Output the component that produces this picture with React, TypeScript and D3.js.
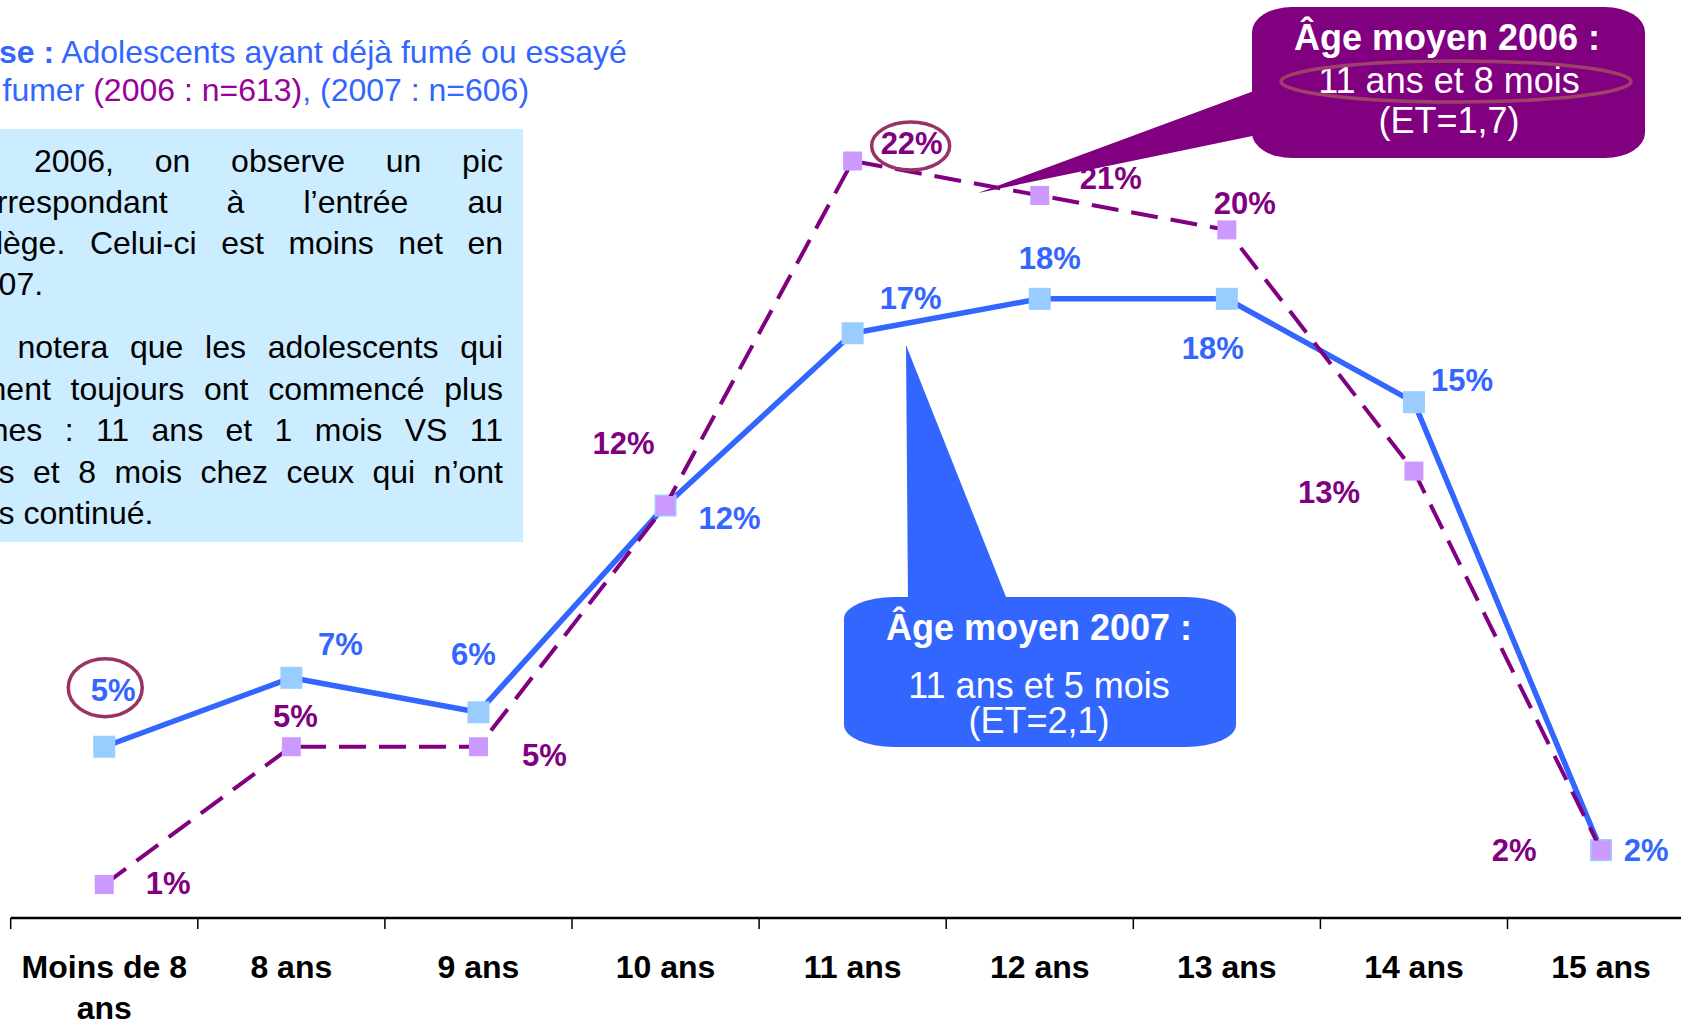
import React, { useMemo } from "react";
import * as d3 from "d3";

// ---------- data ----------
const categories = ["Moins de 8 ans", "8 ans", "9 ans", "10 ans", "11 ans", "12 ans", "13 ans", "14 ans", "15 ans"];
const values2007 = [5, 7, 6, 12, 17, 18, 18, 15, 2];
const values2006 = [1, 5, 5, 12, 22, 21, 20, 13, 2];
const circled2007 = [0];
const circled2006 = [4];

const titleLine1Bold = "Base :";
const titleLine1 = " Adolescents ayant déjà fumé ou essayé";
const titleLine2a = "de fumer ";
const titleLine2b = "(2006 : n=613)";
const titleLine2c = ", (2007 : n=606)";

const noteLines = [
  "En 2006, on observe un pic",
  "correspondant à l’entrée au",
  "collège. Celui-ci est moins net en",
  "2007.",
  "On notera que les adolescents qui",
  "fument toujours ont commencé plus",
  "jeunes : 11 ans et 1 mois VS 11",
  "ans et 8 mois chez ceux qui n’ont",
  "pas continué.",
];
const noteJustified = [true, true, true, false, true, true, true, true, false];

const callout2006 = ["Âge moyen 2006 :", "11 ans et 8 mois", "(ET=1,7)"];
const callout2007 = ["Âge moyen 2007 :", "11 ans et 5 mois", "(ET=2,1)"];

// ---------- layout ----------
const labelOffsets2007: [number, number][] = [
  [9, -57], [49, -34], [-5, -58], [64, 12], [58, -35], [10, -41], [-14, 49], [48, -22], [45, 0],
];
const labelOffsets2006: [number, number][] = [
  [64, -2], [4, -31], [66, 8], [-42, -63], [59, -18], [71, -18], [18, -27], [-85, 21], [-87, 0],
];
const noteLeft = [-46, -37, -45, -37, -47, -47, -52, -37, -37];
const noteBaselines = [172, 213, 254, 295, 358, 400, 441, 483, 524];

const FONT = '"Liberation Sans", Arial, Helvetica, sans-serif';
const BLUE = "#3366FF";
const BLUE_MARK = "#99CCFF";
const PURPLE = "#800080";
const PURPLE_MARK = "#CC99FF";
const RING = "#993366";

let ctxCache: CanvasRenderingContext2D | null = null;
function measure(text: string, font: string): number {
  if (!ctxCache) ctxCache = document.createElement("canvas").getContext("2d");
  if (!ctxCache) return text.length * 16;
  ctxCache.font = font;
  return ctxCache.measureText(text).width;
}

export default function App() {
  const W = 1681;
  const H = 1022;
  const x = d3
    .scaleBand<string>()
    .domain(categories)
    .range([10.7, 10.7 + 187.1 * categories.length])
    .padding(0);
  const bw = x.bandwidth();
  const cx = (i: number) => (x(categories[i]) as number) + bw / 2;
  const y = d3.scaleLinear().domain([0, 22]).range([919, 161]);

  const line = d3
    .line<number>()
    .x((_, i) => cx(i))
    .y((d) => y(d));

  const bodyFont = `32px ${FONT}`;
  const noteLayout = useMemo(() => {
    const R = 503;
    return noteLines.map((ln, li) => {
      const L = noteLeft[li];
      const words = ln.split(" ");
      const ws = words.map((w) => measure(w, bodyFont));
      const sum = ws.reduce((a, b) => a + b, 0);
      const gap =
        noteJustified[li] && words.length > 1
          ? (R - L - sum) / (words.length - 1)
          : measure(" ", bodyFont);
      let pos = L;
      return words.map((w, wi) => {
        const item = { w, x: pos, y: noteBaselines[li] };
        pos += ws[wi] + gap;
        return item;
      });
    });
  }, []);

  const axisFont = `bold 32px ${FONT}`;
  const tickLines = useMemo(
    () =>
      categories.map((c) => {
        const words = c.split(" ");
        const lines: string[] = [];
        let cur = "";
        words.forEach((w) => {
          const t = cur ? cur + " " + w : w;
          if (cur && measure(t, axisFont) > 180) {
            lines.push(cur);
            cur = w;
          } else cur = t;
        });
        if (cur) lines.push(cur);
        return lines;
      }),
    []
  );

  const labelFs = 31;

  return (
    <svg
      width={W}
      height={H}
      viewBox={`0 0 ${W} ${H}`}
      style={{ position: "absolute", left: 0, top: 0, display: "block", background: "#fff" }}
      fontFamily={FONT}
    >
      {/* note box */}
      <rect x={-10} y={129} width={533} height={413} fill="#CCECFF" />
      {noteLayout.map((ws, li) =>
        ws.map((w, wi) => (
          <text key={`n${li}-${wi}`} x={w.x} y={w.y} fontSize={32} fill="#000">
            {w.w}
          </text>
        ))
      )}

      {/* title */}
      <text x={-42} y={63} fontSize={32} fill={BLUE}>
        <tspan fontWeight="bold">{titleLine1Bold}</tspan>
        {titleLine1}
      </text>
      <text x={-42} y={101} fontSize={32} fill={BLUE}>
        {titleLine2a}
        <tspan fill="#990099">{titleLine2b}</tspan>
        {titleLine2c}
      </text>

      {/* axis */}
      <line x1={10.7} x2={W + 20} y1={918} y2={918} stroke="#000" strokeWidth={2.5} />
      {categories.map((c, i) => (
        <line
          key={`t${i}`}
          x1={x(c) as number}
          x2={x(c) as number}
          y1={918}
          y2={929}
          stroke="#000"
          strokeWidth={1.5}
        />
      ))}
      {tickLines.map((lines, i) =>
        lines.map((t, k) => (
          <text
            key={`tl${i}-${k}`}
            x={cx(i)}
            y={978 + k * 41}
            fontSize={32}
            fontWeight="bold"
            textAnchor="middle"
            fill="#000"
          >
            {t}
          </text>
        ))
      )}

      {/* 2007 series */}
      <path d={line(values2007) || ""} fill="none" stroke={BLUE} strokeWidth={5.5} strokeLinejoin="round" />
      {values2007.map((v, i) => (
        <rect key={`bm${i}`} x={cx(i) - 11} y={y(v) - 11} width={22} height={22} fill={BLUE_MARK} />
      ))}

      {/* 2006 series */}
      <path
        d={line(values2006) || ""}
        fill="none"
        stroke={PURPLE}
        strokeWidth={4}
        strokeDasharray="27,13"
      />
      {values2006.map((v, i) => (
        <rect key={`pm${i}`} x={cx(i) - 9.5} y={y(v) - 9.5} width={19} height={19} fill={PURPLE_MARK} />
      ))}

      {/* labels */}
      {values2007.map((v, i) => (
        <text
          key={`bl${i}`}
          x={cx(i) + labelOffsets2007[i][0]}
          y={y(v) + labelOffsets2007[i][1] + labelFs * 0.36}
          fontSize={labelFs}
          fontWeight="bold"
          fill={BLUE}
          textAnchor="middle"
        >
          {`${v}%`}
        </text>
      ))}
      {values2006.map((v, i) => (
        <text
          key={`pl${i}`}
          x={cx(i) + labelOffsets2006[i][0]}
          y={y(v) + labelOffsets2006[i][1] + labelFs * 0.36}
          fontSize={labelFs}
          fontWeight="bold"
          fill={PURPLE}
          textAnchor="middle"
        >
          {`${v}%`}
        </text>
      ))}
      {circled2007.map((i) => (
        <ellipse
          key={`c7${i}`}
          cx={cx(i) + labelOffsets2007[i][0] - 8}
          cy={y(values2007[i]) + labelOffsets2007[i][1] - 2}
          rx={37}
          ry={29}
          fill="none"
          stroke={RING}
          strokeWidth={3.5}
        />
      ))}
      {circled2006.map((i) => (
        <ellipse
          key={`c6${i}`}
          cx={cx(i) + labelOffsets2006[i][0] - 1}
          cy={y(values2006[i]) + labelOffsets2006[i][1] + 3}
          rx={39}
          ry={24}
          fill="none"
          stroke={RING}
          strokeWidth={3.5}
        />
      ))}

      {/* callout 2006 */}
      <polygon points="978,193 1262,88 1262,134" fill={PURPLE} />
      <rect x={1252} y={7} width={393} height={151} rx={40} ry={25} fill={PURPLE} />
      <text x={1447} y={50} fontSize={36} fontWeight="bold" fill="#fff" textAnchor="middle">
        {callout2006[0]}
      </text>
      <text x={1449} y={93} fontSize={36} fill="#fff" textAnchor="middle">
        {callout2006[1]}
      </text>
      <text x={1449} y={133} fontSize={36} fill="#fff" textAnchor="middle">
        {callout2006[2]}
      </text>
      <ellipse cx={1456} cy={81.5} rx={175} ry={20.5} fill="none" stroke="#A0406A" strokeWidth={3.5} />

      {/* callout 2007 */}
      <polygon points="906,345 908,602 1008,602" fill={BLUE} />
      <rect x={844} y={597} width={392} height={150} rx={50} ry={22} fill={BLUE} />
      <text x={1039} y={640} fontSize={36} fontWeight="bold" fill="#fff" textAnchor="middle">
        {callout2007[0]}
      </text>
      <text x={1039} y={698} fontSize={36} fill="#fff" textAnchor="middle">
        {callout2007[1]}
      </text>
      <text x={1039} y={733} fontSize={36} fill="#fff" textAnchor="middle">
        {callout2007[2]}
      </text>
    </svg>
  );
}
